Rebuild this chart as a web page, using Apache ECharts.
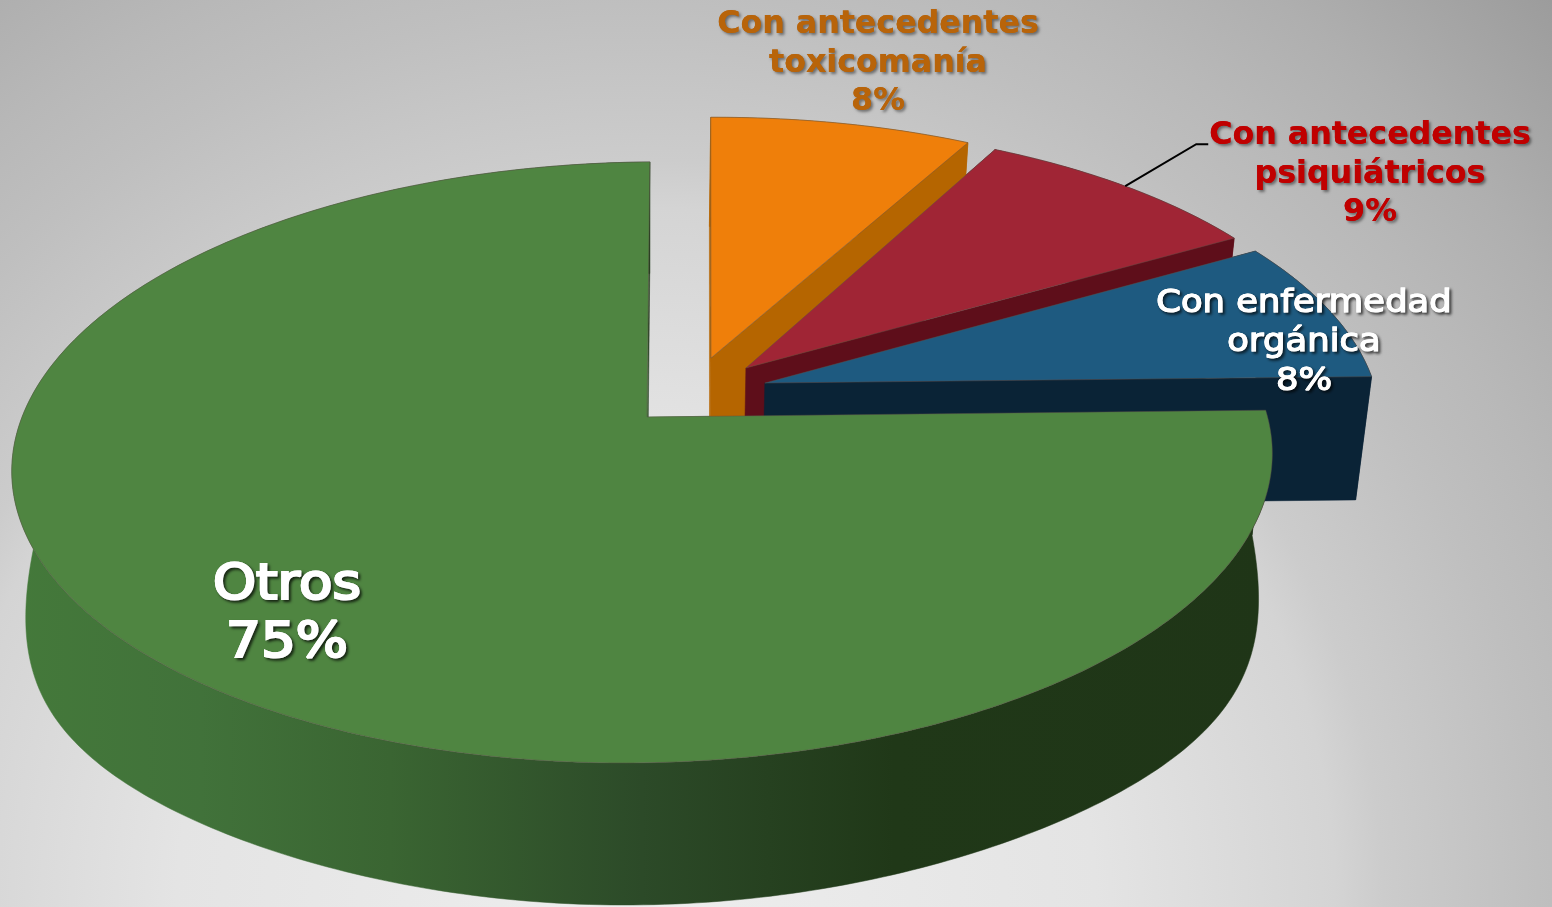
<!DOCTYPE html>
<html><head><meta charset="utf-8">
<style>html,body{margin:0;padding:0;width:100%;height:100%;overflow:hidden}#c{width:1552px;height:907px}</style>
<script src="https://cdn.jsdelivr.net/npm/echarts@6/dist/echarts.min.js"></script>
</head><body><div id="c"></div>
<script>
// Data, clockwise from 12 o'clock
const categories = ['Con antecedentes\ntoxicomanía', 'Con antecedentes\npsiquiátricos', 'Con enfermedad\norgánica', 'Otros'];
const values = [8, 9, 8, 75];
const topColors = ['#ef7f0a', '#a02535', '#1e5a80', '#4f8541'];
const wallColors = ['#b56500', '#5e0e1a', '#0a2336', '#2e4f28'];
const labelColors = ['#b8640a', '#c00000', '#ffffff', '#ffffff'];

// Layout
const P = {cx: 647, cy: 417, B: 623, A: 293.6, p: 0.151, q: -0.007, tilt: 0.011, h0: 125, hp: 0.12, bump: 170, sx: 0.978};
const apexes = [[711, 358], [746, 368], [765, 383], [647, 417]];
const sliceTurn = [0.01, 0, 0, 0];
const labelLayout = [
  {x: 878, y: 25, lh: 38.5, font: 'bold 31.7px "DejaVu Sans"', sx: 1},
  {x: 1370, y: 136, lh: 38.5, font: 'bold 31.7px "DejaVu Sans"', sx: 1},
  {x: 1304, y: 304, lh: 39, font: 'normal 31.5px "DejaVu Sans"', stroke: 1.1, sx: 1.125},
  {x: 287, y: 586, lh: 58, font: 'normal 49px "DejaVu Sans"', stroke: 2.2, sx: 1.12}
];
const greenWall = {type: 'linear', x: 0, y: 0, x2: 1, y2: 0, colorStops: [
  {offset: 0, color: '#44793a'}, {offset: .15, color: '#41723a'}, {offset: .3, color: '#3a6532'},
  {offset: .5, color: '#2c4a28'}, {offset: .7, color: '#203818'}, {offset: 1, color: '#1f3517'}]};

function project(X, Y) {
  const w = 1 - P.p * Y - P.q * X;
  const x0 = P.B * X / w, y0 = P.A * Y / w;
  return [P.cx + x0 - P.tilt * y0, P.cy + y0 - P.tilt * x0];
}
function invert(sx, sy) {
  const x = sx - P.cx, y = sy - P.cy;
  const x0 = x + P.tilt * y, y0 = y + P.tilt * x;
  const Y = y0 / (P.A + P.p * y0);
  return [x0 * (1 - P.p * Y) / P.B, Y];
}
function down(X, Y) {
  const t = project(X, Y), v = Math.max(0, Math.min(1, Y));
  return [P.cx + (t[0] - P.cx) * P.sx, t[1] + P.h0 / (1 - P.hp * Y) + P.bump * v * (1 - v) * (1 - v)];
}
const total = values.reduce((a, b) => a + b, 0);
const starts = values.map((v, i) => values.slice(0, i).reduce((a, b) => a + b, 0) / total * Math.PI * 2);
const arcPts = (i, fn) => {
  const o = invert(apexes[i][0], apexes[i][1]), a0 = starts[i] + sliceTurn[i], a1 = a0 + values[i] / total * Math.PI * 2;
  const n = Math.max(8, Math.ceil((a1 - a0) / 0.015)), pts = [];
  for (let k = 0; k <= n; k++) {
    const a = a0 + (a1 - a0) * k / n;
    pts.push(fn(o[0] + Math.sin(a), o[1] - Math.cos(a)));
  }
  return pts;
};
const apexOf = (i, fn) => { const o = invert(apexes[i][0], apexes[i][1]); return fn(o[0], o[1]); };

function renderSlice(params, api) {
  const i = api.value(0);
  const top = arcPts(i, project), bot = arcPts(i, down);
  const a = apexOf(i, project), ab = apexOf(i, down);
  const wall = i === 3 ? greenWall : wallColors[i];
  const last = top.length - 1;
  const poly = (points, fill, stroke, z) => ({type: 'polygon', z2: z, shape: {points},
    style: {fill, stroke: stroke || fill, lineWidth: stroke ? 1 : 0.5}});
  const kids = [
    poly(top.concat(bot.slice().reverse()), wall, null, 1),
    poly([a, top[0], bot[0], ab], wall, null, 2),
    poly([a, top[last], bot[last], ab], wall, null, 3),
    poly([a].concat(top), topColors[i], 'rgba(90,80,70,0.45)', 4)
  ];
  return {type: 'group', children: kids};
}
function renderLabel(params, api) {
  const i = api.value(0), L = labelLayout[i];
  const dark = i >= 2;
  const base = {
    text: categories[i] + '\n' + values[i] + '%', x: 0, y: 0, fill: labelColors[i],
    font: L.font, lineHeight: L.lh, align: 'center', verticalAlign: 'top',
    stroke: L.stroke ? labelColors[i] : null, lineWidth: L.stroke || 0
  };
  const shadowed = Object.assign({}, base, {
    textShadowColor: dark ? 'rgba(0,0,0,0.65)' : 'rgba(0,0,0,0.45)', textShadowBlur: 3, textShadowOffsetX: 2, textShadowOffsetY: 2
  });
  const kids = [
    {type: 'text', z2: 10, x: L.x, y: L.y - L.lh / 2, scaleX: L.sx, style: shadowed},
    {type: 'text', z2: 11, x: L.x, y: L.y - L.lh / 2, scaleX: L.sx, style: base}
  ];
  if (i === 1) {
    const o = invert(apexes[1][0], apexes[1][1]), ang = starts[1] + values[1] / total * Math.PI;
    const s = project(o[0] + Math.sin(ang), o[1] - Math.cos(ang));
    kids.push({type: 'polyline', z2: 9, shape: {points: [s, [s[0] + 71, s[1] - 42], [s[0] + 83, s[1] - 42]]},
      style: {stroke: '#000', lineWidth: 2, fill: 'none'}});
  }
  return {type: 'group', children: kids};
}
const idx = values.map((v, i) => [i, v]);
const chart = echarts.init(document.getElementById('c'), null, {renderer: 'canvas'});
chart.setOption({
  animation: false,
  backgroundColor: {type: 'radial', x: 0.41, y: 1.0, r: 1.42, colorStops: [
    {offset: 0, color: '#eeeeee'}, {offset: .357, color: '#e4e4e4'}, {offset: .543, color: '#d4d4d4'},
    {offset: .58, color: '#cccccc'}, {offset: .70, color: '#bfbfbf'}, {offset: .776, color: '#b8b8b8'},
    {offset: .86, color: '#afafaf'}, {offset: 1, color: '#9c9c9c'}]},
  series: [
    {type: 'custom', coordinateSystem: 'none', silent: true, renderItem: renderSlice, data: idx, z: 1},
    {type: 'custom', coordinateSystem: 'none', silent: true, renderItem: renderLabel, data: idx, z: 2}
  ]
});
</script></body></html>
